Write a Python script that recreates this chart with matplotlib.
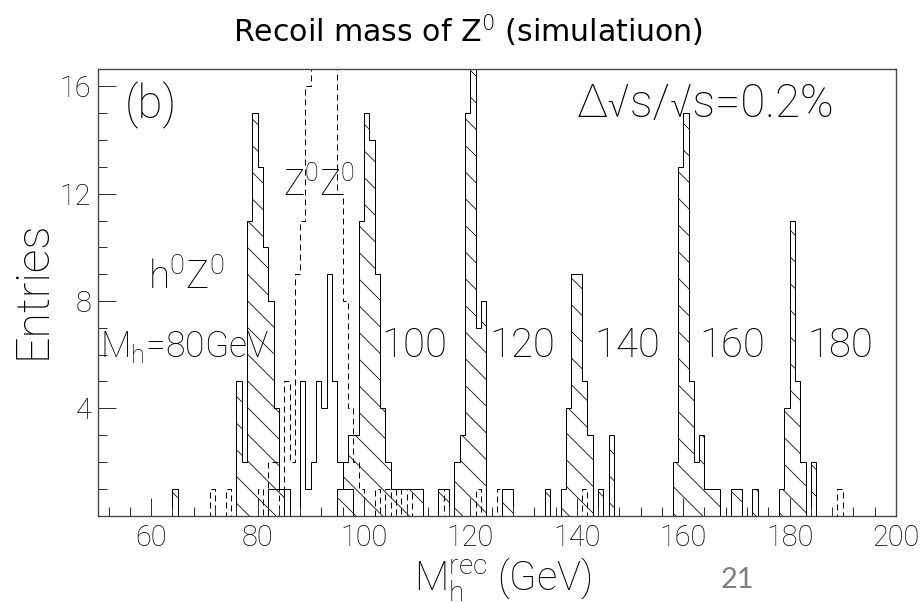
import numpy as np
import matplotlib.pyplot as plt
from matplotlib.ticker import FixedLocator, MultipleLocator

# 1 GeV bins over the recoil-mass range
edges = np.arange(50, 201)

# h0Z0 signal for each Higgs mass: lower bin edge (GeV) and entries
h80_bins = [64, 76, 77, 78, 79, 80, 81, 82, 83, 84]
h80_counts = [1, 5, 2, 11, 15, 13, 10, 8, 4, 1]
h100_bins = [95, 96, 97, 98, 99, 100, 101, 102, 103, 104, 105, 106, 107, 108, 109, 110]
h100_counts = [1, 2, 3, 3, 11, 15, 14, 9, 4, 2, 1, 1, 1, 1, 1, 1]
h120_bins = [114, 115, 117, 118, 119, 120, 121, 122, 126, 127]
h120_counts = [1, 1, 2, 3, 15, 19, 7, 8, 1, 1]
h140_bins = [134, 137, 138, 139, 140, 141, 142, 144, 146]
h140_counts = [1, 1, 4, 9, 9, 5, 3, 1, 3]
h160_bins = [158, 159, 160, 161, 162, 163, 164, 165, 166, 169, 170, 173]
h160_counts = [2, 13, 15, 5, 2, 3, 1, 1, 1, 1, 1, 1]
h180_bins = [178, 179, 180, 181, 182, 184]
h180_counts = [1, 4, 11, 5, 2, 2]

# open solid histogram under the Z0Z0 peak
open_bins = [82, 83, 84, 85, 88, 89, 90, 91, 92, 93, 94, 95, 96, 97]
open_counts = [1, 1, 1, 1, 5, 1, 2, 5, 4, 9, 5, 2, 1, 1]

# Z0Z0 background (dashed)
zz_bins = [71, 74, 80, 82, 83, 85, 86, 87, 88, 89, 90, 91, 92, 93, 94, 95, 96, 97,
           98, 99, 102, 104, 106, 108, 115, 121, 125, 141, 189]
zz_counts = [1, 1, 1, 2, 2, 5, 2, 9, 11, 16, 20, 24, 25, 23, 19, 12, 8, 4,
             2, 1, 1, 1, 1, 1, 1, 1, 1, 1, 1]

mass_labels = ["100", "120", "140", "160", "180"]
mass_label_x = [103.2, 123.5, 143.2, 163.0, 183.3]


def to_counts(bins, counts):
    vals = np.zeros(len(edges) - 1)
    vals[np.asarray(bins) - edges[0]] = counts
    return vals


plt.rcParams['font.family'] = ['Roboto', 'DejaVu Sans']
plt.rcParams['font.weight'] = 'light'
plt.rcParams['mathtext.fontset'] = 'custom'
plt.rcParams['mathtext.rm'] = 'Roboto:light'
plt.rcParams['mathtext.it'] = 'Roboto:italic:light'
plt.rcParams['mathtext.bf'] = 'Roboto:bold'
plt.rcParams['hatch.linewidth'] = 0.7

DPI = 80
fig = plt.figure(figsize=(923 / DPI, 603 / DPI), dpi=DPI)
ax = fig.add_axes([98 / 923, 87.5 / 603, 798 / 923, 446.5 / 603])

signal = [(h80_bins, h80_counts), (h100_bins, h100_counts), (h120_bins, h120_counts),
          (h140_bins, h140_counts), (h160_bins, h160_counts), (h180_bins, h180_counts)]
for bins, counts in signal:
    ax.stairs(to_counts(bins, counts), edges, fill=True, facecolor='none',
              edgecolor='black', hatch='\\', lw=0.9)
ax.stairs(to_counts(open_bins, open_counts), edges, color='black', lw=0.9)
ax.stairs(to_counts(zz_bins, zz_counts), edges, color='black', lw=0.9,
          linestyle=(0, (6, 4)))

ax.set_xlim(50, 200)
ax.set_ylim(0, 16.65)
ax.xaxis.set_major_locator(MultipleLocator(20))
ax.xaxis.set_minor_locator(MultipleLocator(4))
ax.yaxis.set_major_locator(FixedLocator([4, 8, 12, 16]))
ax.yaxis.set_minor_locator(MultipleLocator(1))
ax.tick_params(which='both', direction='in', top=False, right=False,
               width=0.9, color='#333333')
ax.tick_params(which='major', length=16, labelsize=26)
ax.tick_params(axis='x', which='major', pad=8)
ax.tick_params(axis='y', which='major', pad=6)
ax.tick_params(which='minor', length=8)
for s in ax.spines.values():
    s.set_linewidth(1.2)
    s.set_color('#444444')

# annotations inside the frame
ax.text(55.0, 14.8, "(b)", fontsize=41, ha='left', va='baseline')
ax.text(140.0, 14.85, "Δ√s/√s=0.2%", fontsize=41, ha='left', va='baseline')
ax.text(84.8, 11.96, r"Z$^0$Z$^0$", fontsize=32, ha='left', va='baseline')
ax.text(59.4, 8.41, r"h$^0$Z$^0$", fontsize=35, ha='left', va='baseline')
ax.text(50.3, 5.91, r"M$_\mathrm{h}$=80GeV", fontsize=32, ha='left', va='baseline')
for lab, x in zip(mass_labels, mass_label_x):
    ax.text(x, 5.91, lab, fontsize=36, ha='left', va='baseline')

fig.text(33 / 923, 1 - 290 / 603, "Entries", fontsize=42, rotation=90,
         ha='center', va='center')
fig.text(503 / 923, 1 - 590 / 603, r"M$_\mathrm{h}^\mathrm{rec}$ (GeV)",
         fontsize=36, ha='center', va='baseline')
fig.text(468 / 923, 1 - 42 / 603, r"Recoil mass of Z$^0$ (simulatiuon)",
         fontsize=27, family='DejaVu Sans', weight='normal',
         math_fontfamily='dejavusans', ha='center', va='baseline')
fig.text(737 / 923, 1 - 580 / 603, "21", fontsize=26, family=['Lato', 'DejaVu Sans'],
         weight='normal', color='#7f7f7f', ha='center', va='center')

fig.savefig("out.png", dpi=DPI)
